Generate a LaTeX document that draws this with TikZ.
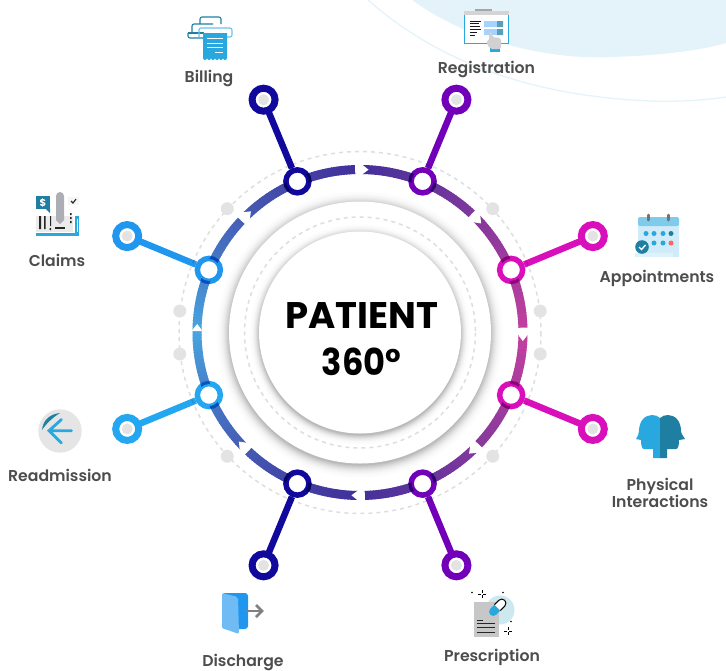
\documentclass[tikz,border=0pt]{standalone}
\usepackage{fontspec}
\usepackage{graphicx}
\setmainfont{Poppins}
\newfontfamily\lblfont{Poppins}[UprightFont=* SemiBold,BoldFont=* Bold]
\definecolor{cTop}{HTML}{42309A}
\definecolor{cRight}{HTML}{C4409E}
\definecolor{cLeft}{HTML}{48A6E0}
\definecolor{cBill}{HTML}{10099C}
\definecolor{cPur}{HTML}{7200B8}
\definecolor{cMag}{HTML}{D90FBC}
\definecolor{cBlu}{HTML}{2196EE}
\definecolor{cBlu2}{HTML}{22A7F0}
\definecolor{cPale}{HTML}{E4F3FA}
\definecolor{cDash}{HTML}{DEDEDE}
\definecolor{cDot}{HTML}{E3E3E3}
\definecolor{cTxt}{HTML}{4D4D4D}
\definecolor{iBlue}{HTML}{29A8E0}
\definecolor{iTeal}{HTML}{1F7FA3}
\tikzset{
  lbl/.style={font=\lblfont\fontsize{15.7}{18}\selectfont,text=cTxt,align=center,inner sep=0},
  ttl/.style={font=\bfseries\fontsize{37}{40}\selectfont,text=black,inner sep=0},
  hubnode/.style={circle,inner sep=0,minimum size=23,line width=5.5},
  tipnode/.style={circle,inner sep=0,minimum size=23,line width=7,fill=white},
  spoke/.style={line width=6.5},
  idot/.style={fill=cDot},
}
\begin{document}
\begin{tikzpicture}[x=1pt,y=-1pt]
\useasboundingbox (0,0) rectangle (726,670);
% background
\fill[cPale] (412,0) .. controls (470,42) and (550,60) .. (610,57) .. controls (650,56) and (695,52) .. (726,43) -- (726,0) -- cycle;
\draw[cPale,line width=1.3] (368,0) .. controls (425,50) and (510,95) .. (650,101) .. controls (680,102) and (705,100) .. (726,97);
\begin{scope}[shift={(360,332.5)}]
% outer dashed circle and dots
\draw[cDash,line width=1.5,dash pattern=on 4pt off 4pt] (0,0) circle[radius=181];
\foreach \a in {-43,-137,43,137,6.8,-6.8,173.2,186.8} {\fill[idot] (\a:181.5) circle[radius=6.5];}
% shadows
\foreach \i in {0,...,12}{
  \pgfmathsetmacro\v{1+26*(\i/12)*(\i/12)}
  \fill[black!\v] (0,2) circle[radius={143-\i}];
}
\fill[white] (0,0) circle[radius=131];
\draw[cDash,line width=1.5,dash pattern=on 4pt off 4pt] (0,0) circle[radius=115.5];
\foreach \i in {0,...,9}{
  \pgfmathsetmacro\v{1+26*(\i/9)*(\i/9)}
  \fill[black!\v] (0,2) circle[radius={110-\i}];
}
\fill[white] (0,0) circle[radius=101];
% graded ring
\foreach \a in {-90,-89,...,269}{
  \pgfmathsetmacro\t{\a<0 ? (\a+90)/90 : (\a<90 ? (90-\a)/90 : (\a<180 ? (\a-90)/90 : (270-\a)/90))}
  \ifnum\a<90
    \pgfmathsetmacro\m{100*\t}
    \colorlet{seg}{cRight!\m!cTop}
  \else
    \pgfmathsetmacro\m{100*\t*(0.5+0.5*\t)}
    \colorlet{seg}{cLeft!\m!cTop}
  \fi
  \draw[seg,line width=9] (\a:163) -- ({\a+1.3}:163);
}
% gaps and swallow tails
\foreach \a in {-90,-45,0,45,90,135,225}{
  \fill[white] ({\a-1.7}:157) -- ({\a-1.7}:169) -- ({\a+0.7}:169) -- ({\a+0.7}:157) -- cycle;
}
\foreach \a in {-90,-45,0,45,90,135,180,225}{
  \fill[white] ({\a+0.5}:168.5) -- ({\a+3}:163) -- ({\a+0.5}:157.5) -- cycle;
}
% name nodes
\foreach \n/\a in {1/-112.5,2/-67.5,3/-22.5,4/22.5,5/67.5,6/112.5,7/157.5,8/202.5}{
  \node[hubnode] (h\n) at (\a:163.6) {};
  \node[tipnode,draw=none,fill=none] (t\n) at (\a:252) {};
  \fill[white] (\a:163.6) circle[radius=11];
}
\end{scope}
\foreach \n/\c in {1/cBill,2/cPur,3/cMag,4/cMag,5/cPur,6/cBill,7/cBlu2,8/cBlu}{
  \begin{scope}[blend mode=multiply]
    \draw[\c,spoke] (h\n) -- (t\n.center);
    \node[hubnode,draw=\c] at (h\n) {};
  \end{scope}
  \node[tipnode,draw=\c] at (t\n) {};
  \fill[cDot] (t\n) circle[radius=5.5];
}
% title
\node[ttl] (title1) at (361.5,316) {PATIENT};
\node[ttl] (title2) at (361.5,362) {\scalebox{0.91}[1]{360°}};
% labels
\node[lbl] (lb1) at (209,78) {Billing};
\node[lbl] (lb2) at (486.5,69.5) {Registration};
\node[lbl] (lb3) at (657,278) {Appointments};
\node[lbl,text width=110] (lb4) at (660,493) {Physical\\[-1pt]Interactions};
\node[lbl] (lb5) at (492,657) {Prescription};
\node[lbl] (lb6) at (243,662) {Discharge};
\node[lbl] (lb7) at (60,475) {Readmission};
\node[lbl] (lb8) at (57,260) {Claims};
% billing icon
\draw[iTeal,line width=1.1,rounded corners=2] (200,23) -- (200,17) -- (221,17) -- (221,24) (213,24) -- (192,24) -- (192,33) (188,33) -- (188,38) -- (203,38);
\draw[iTeal,line width=1.1] (188,33) -- (204,33);
\draw[iBlue!70,line width=1.1,rounded corners=2] (199,37) -- (199,28) -- (232,28) -- (232,37) -- (227,37);
\fill[iBlue] (203,33) -- (227,33) -- (227,58) arc[start angle=0,end angle=180,radius=2] arc[start angle=0,end angle=180,radius=2] arc[start angle=0,end angle=180,radius=2] arc[start angle=0,end angle=180,radius=2] arc[start angle=0,end angle=180,radius=2] arc[start angle=0,end angle=180,radius=2] -- cycle;
\draw[white,line width=1] (207,38) -- (223,38) (207,43) -- (223,43) (207,47) -- (223,47) (215,52) -- (223,52);
% claims icon
\fill[iTeal] (36,196) rectangle (50,209);
\fill[iTeal] (46,209) -- (50,209) -- (50,213) -- cycle;
\node[font=\bfseries\fontsize{10}{10}\selectfont,text=white,inner sep=0] (dollar) at (43,202.5) {\$};
\fill[black!8] (36,216) rectangle (73,232);
\fill[black!4] (68,197) rectangle (79,205);
\draw[black!85,line width=1.1] (71,201) -- (73,203) -- (76,199);
\fill[black!85] (39,216) rectangle (41,229) (44,216) rectangle (45.5,229) (50,216) rectangle (51,226) (49.5,228) rectangle (51,230);
\fill[black!85] (55,227) rectangle (65,229);
\fill[black!85] (70,213) rectangle (71.5,215) (70,217) rectangle (71.5,219) (70,221) rectangle (71.5,223);
\fill[iBlue] (36,233) rectangle (79,236);
\fill[iBlue] (75,216) rectangle (79,236);
\fill[white] (76.5,219) rectangle (77.5,232);
\fill[blue!10!black!32] (56,196) arc[start angle=180,end angle=360,radius=4] -- (64,220) -- (60,224) -- (56,220) -- cycle;
% appointments icon
\fill[iBlue!22] (638,220) rectangle (679,257);
\fill[iBlue!60,rounded corners=2] (638,226) -- (638,217) -- (679,217) -- (679,226) -- cycle;
\fill[iBlue!15] (635,253) rectangle (673,257);
\draw[black!55,line width=3,line cap=round] (648,215) -- (648,220) (668,215) -- (668,220);
\foreach \x in {646,654,663}{\fill[iBlue] (\x,233.5) circle[radius=2.5];}
\fill[iTeal] (671,233.5) circle[radius=2.5];
\foreach \x in {654,663}{\fill[iBlue] (\x,243) circle[radius=2.5];}
\fill[red!60!white] (671,243) circle[radius=2.5];
\fill[iTeal] (642,247) circle[radius=6.8];
\draw[white,line width=1.4] (639,247) -- (641.5,249.5) -- (645.5,245);
% physical interactions icon
\fill[iBlue] (660,458) -- (653,458) -- (653,449) -- (644,449) .. controls (642,449) and (641,446) .. (641,440) -- (636,439) .. controls (638,436) and (639,433) .. (639,431) .. controls (639,421) and (645,415) .. (652,415) .. controls (655,415) and (658,416) .. (660,418) -- cycle;
\fill[iTeal] (660,458) -- (667,458) -- (667,449) -- (676,449) .. controls (678,449) and (679,446) .. (679,440) -- (685,439) .. controls (683,436) and (681,433) .. (681,431) .. controls (681,421) and (675,415) .. (668,415) .. controls (665,415) and (662,416) .. (660,418) -- cycle;
% prescription icon
\fill[cPale!90!teal] (500,610) circle[radius=14.5];
\fill[black!22] (474,602) rectangle (499,637);
\draw[black!85,line width=1] (477,620) -- (482.5,620) (477,623.5) -- (495,623.5) (477,627.5) -- (495,627.5) (477,632) -- (495,632);
\begin{scope}[shift={(497.5,607.5)},rotate=45]
  \fill[iBlue] (0,-4.2) -- (-6,-4.2) arc[start angle=270,end angle=90,radius=4.2] -- (0,4.2) -- cycle;
  \fill[white] (0,-4.2) -- (6,-4.2) arc[start angle=-90,end angle=90,radius=4.2] -- (0,4.2) -- cycle;
  \draw[black,line width=1] (0,-4.2) -- (6,-4.2) arc[start angle=-90,end angle=90,radius=4.2] -- (0,4.2);
\end{scope}
\foreach \x/\y in {482/594,508/631}{
  \draw[black,line width=.8] (\x-4,\y) -- (\x-1.2,\y) (\x+1.2,\y) -- (\x+4,\y) (\x,\y-4) -- (\x,\y-1.2) (\x,\y+1.2) -- (\x,\y+4);
}
\foreach \x/\y in {472/592.5,503/592.5,511/621.5}{\fill[black] (\x,\y) circle[radius=.8];}
% discharge icon
\fill[cBlu,rounded corners=3] (222,593) rectangle (248,629);
\fill[cBlu!65!white,rounded corners=2] (222,593) -- (238,597) -- (239,634) -- (222,628) -- cycle;
\draw[black!50,line width=2.5] (245,611) -- (261,611);
\draw[black!50,line width=2.5] (256,605) -- (262,611) -- (256,617);
% readmission icon
\fill[black!10] (60,431) circle[radius=21.7];
\fill[iTeal] (42,430) .. controls (43,420) and (50,414) .. (60,413) .. controls (52,418) and (46,424) .. (42,430) -- cycle;
\draw[iBlue,line width=2.8,line cap=round] (71.5,430.7) -- (49,430.7) (61.5,419.5) -- (49,430.7) -- (61.5,443);
% registration icon
\fill[black!35] (475,8.5) rectangle (492,13);
\fill[black!17] (464,11) rectangle (509,15);
\fill[white] (464,15) rectangle (509,44);
\draw[iBlue,line width=1.5] (464.5,15) -- (464.5,43.5) -- (508.5,43.5) -- (508.5,15);
\foreach \y/\w in {21/11,23.5/9,26/9.5,29/11,32/7,35/5}{\draw[black!90,line width=1] (470,\y) -- ({470+\w},\y);}
\fill[blue!50!cyan!35!white] (484,21) rectangle (497,27) (484,29) rectangle (497,35);
\fill[iTeal!75] (497,21) rectangle (503,27) (497,29) rectangle (503,35);
\fill[iBlue] (490,48) rectangle (500,52);
\fill[black!18,rounded corners=2] (489,32) -- (492,32) -- (492,37) -- (501,38) -- (501,49) -- (490,49) -- (486,42) -- (489,41) -- cycle;
\end{tikzpicture}
\end{document}
